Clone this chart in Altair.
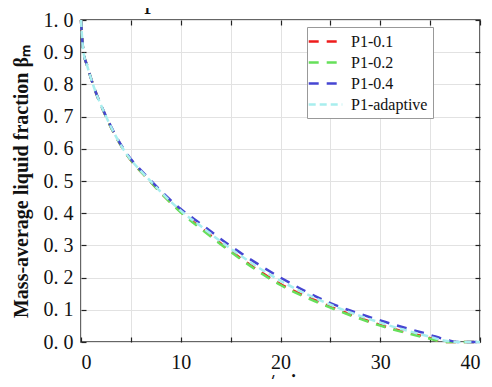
import altair as alt
import pandas as pd

# time points (min)
t = [0, 0.1, 0.25, 0.6, 1.2, 2.5, 4.2, 6.9, 10, 12, 15, 20, 25, 30, 35, 36.5, 37.8, 40]
p1_01 = [1.0, 0.95, 0.9, 0.86, 0.8, 0.7, 0.6, 0.5, 0.405, 0.355, 0.283, 0.18, 0.11, 0.053, 0.012, 0.0, 0.0, 0.0]
p1_02 = [1.0, 0.95, 0.9, 0.86, 0.8, 0.7, 0.6, 0.5, 0.403, 0.352, 0.28, 0.177, 0.107, 0.051, 0.01, 0.0, 0.0, 0.0]
p1_04 = [1.0, 0.95, 0.9, 0.86, 0.8, 0.702, 0.603, 0.505, 0.413, 0.367, 0.298, 0.2, 0.121, 0.067, 0.022, 0.008, 0.0, 0.0]
p1_ad = [1.0, 0.95, 0.9, 0.86, 0.8, 0.701, 0.601, 0.502, 0.408, 0.36, 0.29, 0.19, 0.116, 0.06, 0.016, 0.004, 0.0, 0.0]

series = ["P1-0.1", "P1-0.2", "P1-0.4", "P1-adaptive"]
colors = ["#ee1c1c", "#66e05a", "#4646d2", "#a8eeee"]
dashes = [[10, 8], [10, 8], [10, 8], [7, 4]]
widths = [2.5, 2.5, 2.5, 1.8]

x_ticks = [0, 5, 10, 15, 20, 25, 30, 35, 40]
y_ticks = [0, 0.1, 0.2, 0.3, 0.4, 0.5, 0.6, 0.7, 0.8, 0.9, 1.0]

caption = "solidification process of water within cavi"

rows = []
for name, vals in zip(series, [p1_01, p1_02, p1_04, p1_ad]):
    for ti, v in zip(t, vals):
        rows.append({"t": ti, "beta": v, "series": name})
df = pd.DataFrame(rows)

W, H = 399, 322
FONT = "Liberation Serif"

xs = alt.Scale(domain=[0, 40], nice=False, zero=False)
ys = alt.Scale(domain=[0, 1], nice=False)

color = alt.Color("series:N", sort=series,
                  scale=alt.Scale(domain=series, range=colors),
                  legend=alt.Legend(title=None, orient="none", legendX=226, legendY=7,
                                    symbolType="M-1.6,0H2.6", symbolSize=256, symbolStrokeWidth=2.5,
                                    labelFont=FONT, labelFontSize=16, labelColor="#111",
                                    labelOffset=20, rowPadding=3,
                                    fillColor="white", strokeColor="#999", padding=5))
dash = alt.StrokeDash("series:N", sort=series,
                      scale=alt.Scale(domain=series, range=dashes))
sw = alt.StrokeWidth("series:N", sort=series,
                     scale=alt.Scale(domain=series, range=widths))

lines = alt.Chart(df).mark_line(interpolate="monotone").encode(
    x=alt.X("t:Q", scale=xs,
            axis=alt.Axis(orient="bottom", values=x_ticks, offset=-5, tickSize=5, tickWidth=1.2,
                          tickColor="#222", domain=False, grid=True, gridColor="#e2e2e2",
                          labelExpr="datum.value % 10 == 0 ? datum.label : ''",
                          labelFont=FONT, labelFontSize=20, labelColor="#111", labelPadding=10,
                          title="τ/min", titleFont=FONT, titleFontSize=20, titleFontWeight="bold",
                          titleColor="#111", titleX=202, titleY=35, titleBaseline="top",
                          titleAlign="center")),
    y=alt.Y("beta:Q", scale=ys,
            axis=alt.Axis(orient="left", values=y_ticks, offset=-5, tickSize=5, tickWidth=1.2,
                          tickColor="#222", domain=False, grid=True, gridColor="#e2e2e2",
                          labelExpr="floor(datum.value + 0.001) + '.\u00a0' + (round(datum.value * 10) % 10)",
                          labelFont=FONT, labelFontSize=20, labelColor="#111", labelPadding=8,
                          title="Mass-average liquid fraction βₘ", titleFont=FONT, titleFontSize=20,
                          titleFontWeight="bold", titleColor="#111", titleAngle=270,
                          titleX=-55, titleY=161, titleAlign="center", titleBaseline="bottom")),
    color=color,
    strokeDash=dash,
    strokeWidth=sw,
    order=alt.Order("series:N"),
)

frame_axes = alt.Chart(df).mark_point(opacity=0).encode(
    x=alt.X("t:Q", scale=xs,
            axis=alt.Axis(orient="top", values=x_ticks, offset=-5, tickSize=5, tickWidth=1.2,
                          tickColor="#222", domain=False, grid=False, labels=False, title=None)),
    y=alt.Y("beta:Q", scale=ys,
            axis=alt.Axis(orient="right", values=y_ticks, offset=-5, tickSize=5, tickWidth=1.2,
                          tickColor="#222", domain=False, grid=False, labels=False, title=None)),
)

cap = alt.Chart(pd.DataFrame({"txt": [caption]})).mark_text(
    font=FONT, fontSize=27, align="left", baseline="alphabetic", color="#111"
).encode(x=alt.value(-86), y=alt.value(-12.5), text="txt:N")

chart = alt.layer(lines, frame_axes, cap).resolve_axis(
    x="independent", y="independent"
).properties(
    width=W, height=H,
    autosize=alt.AutoSizeParams(type="none"),
    padding={"left": 73, "top": 12, "right": 4, "bottom": 37},
).configure_view(stroke="#333", strokeWidth=1.5)

chart.save("out.html", embed_options={"renderer": "svg", "actions": False})
